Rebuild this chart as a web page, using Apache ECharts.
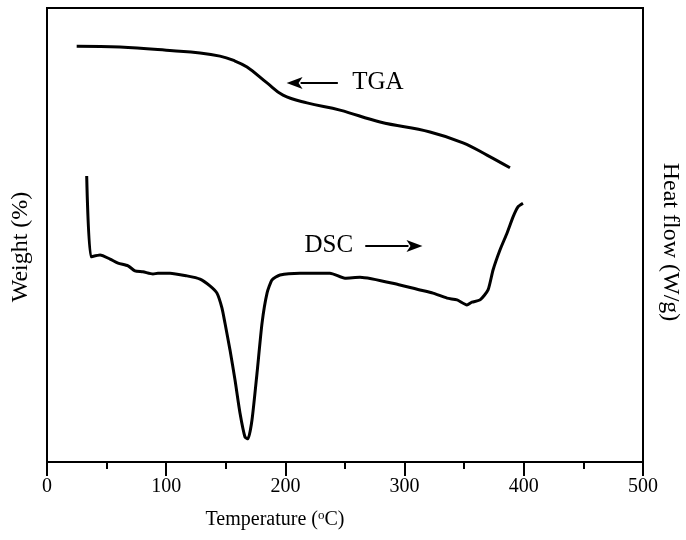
<!DOCTYPE html>
<html>
<head>
<meta charset="utf-8">
<script src="https://cdn.jsdelivr.net/npm/echarts@6/dist/echarts.min.js"></script>
<style>
  html, body { margin: 0; padding: 0; background: #fff; }
  #main { width: 686px; height: 540px; }
</style>
</head>
<body>
<div id="main"></div>
<script>
// TGA curve (temperature, weight)
var tgaTemp = [24.9, 61.2, 105.7, 128.4, 145.1, 156.0, 167.8, 184.6, 198.0, 218.1, 245.8, 279.4, 321.3, 349.0, 369.1, 388.4];
var tgaWeight = [91.6, 91.4, 90.6, 90.1, 89.4, 88.5, 87.0, 83.5, 80.8, 79.1, 77.5, 74.9, 72.7, 70.3, 67.6, 64.8];

// DSC curve (temperature, heat flow)
var dscTemp = [33.3, 36.9, 44.5, 52.9, 59.6, 68.0, 73.8, 80.5, 88.9, 93.1, 103.2, 117.4, 128.4, 136.7, 142.6, 146.8,
  149.3, 153.5, 157.7, 161.9, 166.1, 168.6, 172.0, 176.2, 180.4, 184.6, 188.8, 195.5, 212.2, 237.4, 250.0, 262.6,
  296.1, 312.9, 323.8, 335.6, 344.0, 352.3, 356.5, 363.3, 370.0, 374.2, 380.0, 385.9, 391.0, 395.1, 399.3];
var dscFlow = [63.0, 45.2, 45.6, 44.7, 43.8, 43.2, 42.1, 41.9, 41.4, 41.6, 41.6, 41.0, 40.3, 38.8, 37.2, 33.9,
  30.6, 24.7, 18.1, 10.8, 5.5, 5.1, 9.3, 19.6, 30.6, 37.2, 40.1, 41.2, 41.6, 41.6, 40.5, 40.7,
  39.0, 37.9, 37.2, 36.1, 35.7, 34.6, 35.2, 35.7, 37.9, 42.3, 46.7, 50.4, 54.0, 56.2, 57.0];

var xTicks = [0, 100, 200, 300, 400, 500];

// annotation anchors in data units: [label x, label y, arrow from x, arrow to x]
var tgaNote = [256, 83.5, 244, 201];
var dscNote = [216, 47.6, 267, 315];

var FONT = "'Liberation Serif', 'DejaVu Serif', serif";

function pairs(xs, ys) {
  var out = [];
  for (var i = 0; i < xs.length; i++) out.push([xs[i], ys[i]]);
  return out;
}

var myChart = echarts.init(document.getElementById('main'));

var option = {
  animation: false,
  backgroundColor: '#fff',
  grid: {
    left: 47, right: 43, top: 8, bottom: 78,
    outerBoundsMode: 'none',
    show: true, borderColor: '#000', borderWidth: 2
  },
  xAxis: {
    type: 'value',
    min: 0, max: 500, interval: 100,
    name: 'Temperature ({sup|o}C)',
    nameLocation: 'middle',
    nameGap: 47,
    nameTextStyle: {
      fontFamily: FONT, fontSize: 20, color: '#000',
      padding: [0, 140, 0, 0],
      rich: { sup: { fontFamily: FONT, fontSize: 13, color: '#000', verticalAlign: 'top', padding: [0, 0, 8, 0] } }
    },
    axisLine: { lineStyle: { color: '#000', width: 2 } },
    axisTick: { length: 14, lineStyle: { color: '#000', width: 2 } },
    minorTick: { show: true, splitNumber: 2, length: 7, lineStyle: { color: '#000', width: 2 } },
    axisLabel: {
      margin: 15, fontFamily: FONT, fontSize: 20, color: '#000',
      formatter: function (v) { return xTicks.indexOf(v) >= 0 ? String(v) : ''; }
    },
    splitLine: { show: false }
  },
  yAxis: [{
    type: 'value', min: 0, max: 100,
    name: 'Weight (%)', nameLocation: 'middle', nameGap: 14,
    nameTextStyle: { fontFamily: FONT, fontSize: 24, color: '#000', padding: [0, 24, 0, 0] },
    axisLine: { show: true, lineStyle: { color: '#000', width: 2 } },
    axisTick: { show: false }, axisLabel: { show: false }, splitLine: { show: false }
  }, {
    type: 'value', min: 0, max: 100, position: 'right',
    name: 'Heat flow (W/g)', nameLocation: 'middle', nameGap: 15, nameRotate: -90,
    nameTextStyle: { fontFamily: FONT, fontSize: 24, color: '#000', padding: [0, 0, 0, 14] },
    axisLine: { show: true, lineStyle: { color: '#000', width: 2 } },
    axisTick: { show: false }, axisLabel: { show: false }, splitLine: { show: false }
  }],
  series: [{
    name: 'TGA', type: 'line', yAxisIndex: 0,
    data: pairs(tgaTemp, tgaWeight),
    smooth: 0.4, showSymbol: false,
    lineStyle: { color: '#000', width: 3 }
  }, {
    name: 'DSC', type: 'line', yAxisIndex: 1,
    data: pairs(dscTemp, dscFlow),
    smooth: 0.2, showSymbol: false,
    lineStyle: { color: '#000', width: 3 }
  }]
};
myChart.setOption(option);

function arrow(fromX, toX, y) {
  var dir = toX > fromX ? 1 : -1;
  var tip = toX, base = toX - dir * 16;
  return [{
    type: 'line',
    shape: { x1: fromX, y1: y, x2: base + dir * 2, y2: y },
    style: { stroke: '#000', lineWidth: 2 }
  }, {
    type: 'polygon',
    shape: { points: [[tip, y], [base, y - 6], [base + dir * 4, y], [base, y + 6]] },
    style: { fill: '#000' }
  }];
}

function note(text, spec, yAxisIndex) {
  var lab = myChart.convertToPixel({ xAxisIndex: 0, yAxisIndex: yAxisIndex }, [spec[0], spec[1]]);
  var a = myChart.convertToPixel({ xAxisIndex: 0, yAxisIndex: yAxisIndex }, [spec[2], spec[1]]);
  var b = myChart.convertToPixel({ xAxisIndex: 0, yAxisIndex: yAxisIndex }, [spec[3], spec[1]]);
  var els = [{
    type: 'text', x: lab[0], y: lab[1],
    style: { text: text, font: '25px ' + FONT, fill: '#000', verticalAlign: 'middle', align: 'left' }
  }];
  return els.concat(arrow(a[0], b[0], a[1]));
}

myChart.setOption({
  graphic: note('TGA', tgaNote, 0).concat(note('DSC', dscNote, 1))
});
</script>
</body>
</html>
